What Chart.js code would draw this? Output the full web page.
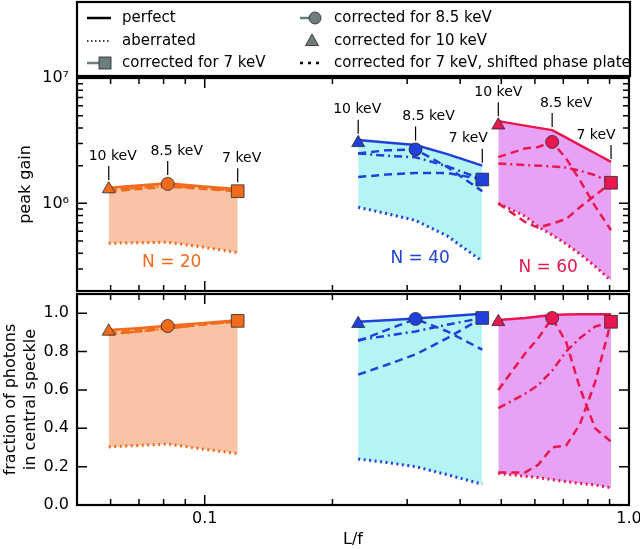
<!DOCTYPE html>
<html>
<head>
<meta charset="utf-8">
<script src="https://cdn.jsdelivr.net/npm/chart.js@4.4.1/dist/chart.umd.min.js"></script>
<style>
html, body { margin: 0; padding: 0; background: #fff; overflow: hidden; }
#wrap { position: relative; width: 640px; height: 549px; }
canvas { position: absolute; left: 0; top: 0; }
</style>
</head>
<body>
<div id="wrap">
  <canvas id="topChart" width="640" height="549"></canvas>
  <canvas id="botChart" width="640" height="549"></canvas>
</div>
<script>
// L/f for each lens stack, going from 10 keV to 7 keV
var lf20 = [0.0594, 0.0696, 0.0818, 0.0979, 0.1196];
var lf40 = [0.230, 0.268, 0.314, 0.373, 0.451];
var lf60 = [0.492, 0.569, 0.611, 0.659, 0.711, 0.766, 0.832, 0.907];

var energyLabels = ['10 keV', '8.5 keV', '7 keV'];
var groupLabels = ['N = 20', 'N = 40', 'N = 60'];

// peak gain (top panel)
var gainPerfect20 = [1.33e6, 1.39e6, 1.45e6, 1.37e6, 1.30e6];
var gainAberr20 = [4.8e5, 4.85e5, 4.9e5, 4.5e5, 4.05e5];
var gainCorr7_20 = [1.24e6, 1.30e6, 1.36e6, 1.31e6, 1.25e6];
var gainCorr85_20 = [1.27e6, 1.36e6, 1.43e6, 1.34e6, 1.26e6];
var gainShift20 = [1.27e6, 1.33e6, 1.38e6, 1.32e6, 1.27e6];
var gainMark20 = [1.30e6, 1.43e6, 1.25e6];

var gainPerfect40 = [3.2e6, 3.06e6, 2.92e6, 2.47e6, 2.0e6];
var gainAberr40 = [9.3e5, 8.3e5, 7.3e5, 5.5e5, 3.45e5];
var gainCorr7_40 = [1.62e6, 1.70e6, 1.75e6, 1.75e6, 1.55e6];
var gainCorr85_40 = [2.5e6, 2.65e6, 2.69e6, 1.95e6, 1.25e6];
var gainShift40 = [2.5e6, 2.4e6, 2.33e6, 1.98e6, 1.55e6];
var gainMark40 = [3.04e6, 2.69e6, 1.55e6];

var gainPerfect60 = [4.53e6, 4.17e6, 4.0e6, 3.84e6, 3.34e6, 2.91e6, 2.51e6, 2.14e6];
var gainAberr60 = [1.0e6, 7.9e5, 6.5e5, 5.6e5, 4.75e5, 3.95e5, 3.15e5, 2.42e5];
var gainCorr7_60 = [1.0e6, 7.1e5, 6.4e5, 6.9e5, 7.5e5, 9.3e5, 1.16e6, 1.46e6];
var gainCorr85_60 = [2.34e6, 2.74e6, 2.82e6, 3.09e6, 2.28e6, 1.53e6, 9.5e5, 6.1e5];
var gainShift60 = [2.08e6, 2.02e6, 2.0e6, 1.97e6, 1.93e6, 1.82e6, 1.68e6, 1.46e6];
var gainMark60 = [4.2e6, 3.09e6, 1.46e6];

// fraction of photons in central speckle (bottom panel)
var fracPerfect20 = [0.912, 0.922, 0.935, 0.948, 0.963];
var fracAberr20 = [0.303, 0.31, 0.318, 0.293, 0.268];
var fracCorr7_20 = [0.89, 0.905, 0.92, 0.94, 0.96];
var fracCorr85_20 = [0.895, 0.915, 0.933, 0.945, 0.955];
var fracShift20 = [0.89, 0.905, 0.92, 0.94, 0.958];
var fracMark20 = [0.905, 0.933, 0.96];

var fracPerfect40 = [0.955, 0.963, 0.972, 0.984, 0.997];
var fracAberr40 = [0.24, 0.222, 0.2, 0.158, 0.108];
var fracCorr7_40 = [0.68, 0.73, 0.785, 0.87, 0.975];
var fracCorr85_40 = [0.855, 0.912, 0.97, 0.905, 0.81];
var fracShift40 = [0.86, 0.882, 0.905, 0.94, 0.975];
var fracMark40 = [0.945, 0.970, 0.975];

var fracPerfect60 = [0.965, 0.975, 0.983, 0.99, 0.993, 0.995, 0.995, 0.995];
var fracAberr60 = [0.165, 0.15, 0.143, 0.132, 0.122, 0.113, 0.104, 0.09];
var fracCorr7_60 = [0.17, 0.17, 0.21, 0.30, 0.31, 0.42, 0.64, 0.955];
var fracCorr85_60 = [0.60, 0.79, 0.87, 0.975, 0.85, 0.61, 0.40, 0.33];
var fracShift60 = [0.505, 0.58, 0.625, 0.70, 0.80, 0.87, 0.93, 0.955];
var fracMark60 = [0.955, 0.975, 0.955];

// where the "N = .." labels sit, in data units of the top panel
var nLabelX = [0.0836, 0.322, 0.645];
var nLabelY = [3.37e5, 3.63e5, 3.08e5];

var xTickVals = [0.1, 1];
var xTickText = ['0.1', '1.0'];

var lineCols = ['#f26b1d', '#2040dc', '#e8174f'];
var fillCols = ['#f9c3a6', '#b4f4f4', '#e8a2f5'];
var labelDx = [[4, 9, 4], [-1, 13, -14], [0, 14, -15]];
var FONT = 'DejaVu Sans';

function pts(xs, ys) {
  return xs.map(function (x, i) { return {x: x, y: ys[i]}; });
}

function buildSets(groups) {
  var sets = [];
  groups.forEach(function (g, k) {
    var lc = lineCols[k];
    var base = sets.length;
    sets.push({data: pts(g.xs, g.perfect), borderColor: lc, borderWidth: 2.5,
      fill: {target: base + 1}, backgroundColor: fillCols[k], order: 2});
    sets.push({data: pts(g.xs, g.aberr), borderColor: lc, borderWidth: 3,
      borderDash: [2, 3.5], fill: false, order: 2});
    sets.push({data: pts(g.xs, g.c85), borderColor: lc, borderWidth: 2.5,
      borderDash: [8, 5], fill: false, order: 2});
    sets.push({data: pts(g.xs, g.c7), borderColor: lc, borderWidth: 2.5,
      borderDash: [8, 5], fill: false, order: 2});
    sets.push({data: pts(g.xs, g.shift), borderColor: lc, borderWidth: 2.5,
      borderDash: [8, 4, 2, 4], fill: false, order: 2});
    var xsM = [g.xs[0], g.xs[g.mid], g.xs[g.xs.length - 1]];
    sets.push({data: pts(xsM, g.mark), showLine: false, fill: false, order: 0,
      pointStyle: ['triangle', 'circle', 'rect'], pointRadius: [7.5, 6.5, 9],
      pointBackgroundColor: lc, pointBorderColor: '#2a2a2a', pointBorderWidth: 0.8,
      markerGroup: k});
  });
  return sets;
}

var topSets = buildSets([
  {xs: lf20, mid: 2, perfect: gainPerfect20, aberr: gainAberr20, c7: gainCorr7_20, c85: gainCorr85_20, shift: gainShift20, mark: gainMark20},
  {xs: lf40, mid: 2, perfect: gainPerfect40, aberr: gainAberr40, c7: gainCorr7_40, c85: gainCorr85_40, shift: gainShift40, mark: gainMark40},
  {xs: lf60, mid: 3, perfect: gainPerfect60, aberr: gainAberr60, c7: gainCorr7_60, c85: gainCorr85_60, shift: gainShift60, mark: gainMark60}
]);
var botSets = buildSets([
  {xs: lf20, mid: 2, perfect: fracPerfect20, aberr: fracAberr20, c7: fracCorr7_20, c85: fracCorr85_20, shift: fracShift20, mark: fracMark20},
  {xs: lf40, mid: 2, perfect: fracPerfect40, aberr: fracAberr40, c7: fracCorr7_40, c85: fracCorr85_40, shift: fracShift40, mark: fracMark40},
  {xs: lf60, mid: 3, perfect: fracPerfect60, aberr: fracAberr60, c7: fracCorr7_60, c85: fracCorr85_60, shift: fracShift60, mark: fracMark60}
]);

// inward ticks on all four sides + frame, matplotlib style
var xMinor = [];
for (var i = 5; i <= 9; i++) xMinor.push(i / 100);
for (i = 2; i <= 9; i++) xMinor.push(i / 10);
var gainMinor = [];
for (i = 2; i <= 9; i++) { gainMinor.push(i * 1e5); gainMinor.push(i * 1e6); }

var framePlugin = {
  id: 'frame',
  afterDatasetsDraw: function (chart, args, opts) {
    var ctx = chart.ctx, a = chart.chartArea;
    var sx = chart.scales.x, sy = chart.scales.y;
    ctx.save();
    ctx.strokeStyle = '#000';
    ctx.lineWidth = 1.5;
    function tickX(v, len) {
      var p = sx.getPixelForValue(v);
      if (p < a.left - 0.5 || p > a.right + 0.5) return;
      ctx.beginPath();
      ctx.moveTo(p, a.top); ctx.lineTo(p, a.top + len);
      ctx.moveTo(p, a.bottom); ctx.lineTo(p, a.bottom - len);
      ctx.stroke();
    }
    function tickY(v, len) {
      var p = sy.getPixelForValue(v);
      if (p < a.top - 0.5 || p > a.bottom + 0.5) return;
      ctx.beginPath();
      ctx.moveTo(a.left, p); ctx.lineTo(a.left + len, p);
      ctx.moveTo(a.right, p); ctx.lineTo(a.right - len, p);
      ctx.stroke();
    }
    xMinor.forEach(function (v) { tickX(v, 6); });
    xTickVals.forEach(function (v) { tickX(v, 10); });
    (opts.yMinor || []).forEach(function (v) { tickY(v, 6); });
    (opts.yMajor || []).forEach(function (v) { tickY(v, 10); });
    ctx.lineWidth = 2.2;
    ctx.strokeRect(a.left, a.top, a.right - a.left, a.bottom - a.top);
    if (opts.xLabels) {
      ctx.fillStyle = '#000';
      ctx.font = '16px "' + FONT + '"';
      ctx.textAlign = 'center';
      ctx.textBaseline = 'top';
      xTickVals.forEach(function (v, j) {
        ctx.fillText(xTickText[j], sx.getPixelForValue(v), a.bottom + 6);
      });
    }
    ctx.restore();
  }
};

// energy annotations, N labels and the legend box (top panel only)
var notesPlugin = {
  id: 'notes',
  afterDraw: function (chart) {
    var ctx = chart.ctx;
    var sx = chart.scales.x, sy = chart.scales.y;
    ctx.save();
    chart.data.datasets.forEach(function (ds, di) {
      if (ds.markerGroup === undefined) return;
      var k = ds.markerGroup;
      var perf = chart.data.datasets[di - 5].data;
      ds.data.forEach(function (p, j) {
        var mx = sx.getPixelForValue(p.x), my = sy.getPixelForValue(p.y);
        var pp = perf.filter(function (q) { return q.x === p.x; })[0];
        var py = sy.getPixelForValue(pp.y);
        var tip = Math.min(py, my - 6) - 3;
        ctx.strokeStyle = '#000';
        ctx.lineWidth = 1.2;
        ctx.beginPath();
        ctx.moveTo(mx, tip); ctx.lineTo(mx, tip - 14);
        ctx.stroke();
        ctx.fillStyle = '#000';
        ctx.font = '14px "' + FONT + '"';
        ctx.textAlign = 'center';
        ctx.textBaseline = 'middle';
        ctx.fillText(energyLabels[j], mx + labelDx[k][j], tip - 24);
      });
    });
    groupLabels.forEach(function (t, k) {
      ctx.fillStyle = lineCols[k];
      ctx.font = '17px "' + FONT + '"';
      ctx.textAlign = 'center';
      ctx.textBaseline = 'middle';
      ctx.fillText(t, sx.getPixelForValue(nLabelX[k]), sy.getPixelForValue(nLabelY[k]));
    });

    // legend
    var gray = '#6d7d7d';
    ctx.fillStyle = '#fff';
    ctx.fillRect(77, 2, 553, 74);
    ctx.strokeStyle = '#000';
    ctx.lineWidth = 2.2;
    ctx.strokeRect(77, 2, 553, 74);
    var rows = [18, 41, 63];
    function seg(x0, x1, y, dash, w, c) {
      ctx.save();
      ctx.strokeStyle = c; ctx.lineWidth = w; ctx.setLineDash(dash);
      ctx.beginPath(); ctx.moveTo(x0, y); ctx.lineTo(x1, y); ctx.stroke();
      ctx.restore();
    }
    seg(87, 111, rows[0], [], 2.5, '#000');
    seg(87, 111, rows[1], [1.5, 2.5], 1.5, '#000');
    seg(87, 99, rows[2], [], 2.5, gray);
    ctx.fillStyle = gray; ctx.strokeStyle = '#222'; ctx.lineWidth = 0.8;
    ctx.fillRect(99, rows[2] - 6, 12, 12); ctx.strokeRect(99, rows[2] - 6, 12, 12);
    seg(300, 310, rows[0], [], 2.5, gray);
    ctx.beginPath(); ctx.arc(315, rows[0], 6, 0, Math.PI * 2); ctx.fill(); ctx.stroke();
    ctx.beginPath();
    ctx.moveTo(312, rows[1] - 7); ctx.lineTo(318.5, rows[1] + 4.5); ctx.lineTo(305.5, rows[1] + 4.5);
    ctx.closePath(); ctx.fill(); ctx.stroke();
    seg(300, 322, rows[2], [3, 5], 2.5, '#000');
    ctx.fillStyle = '#000';
    ctx.font = '15px "' + FONT + '"';
    ctx.textAlign = 'left';
    ctx.textBaseline = 'middle';
    var texts = ['perfect', 'aberrated', 'corrected for 7 keV', 'corrected for 8.5 keV', 'corrected for 10 keV', 'corrected for 7 keV, shifted phase plate'];
    texts.forEach(function (t, i) {
      ctx.fillText(t, i < 3 ? 122 : 334, rows[i % 3]);
    });
    ctx.restore();
  }
};

Chart.defaults.font.family = FONT;
Chart.defaults.color = '#000';

function xScale(bottomPanel) {
  return {
    type: 'logarithmic', min: 0.05, max: 1.0,
    grid: {display: false, drawTicks: false},
    border: {display: false},
    afterFit: function (s) { s.height = bottomPanel ? 44 : 0; },
    ticks: {display: false, padding: 0},
    title: {display: bottomPanel, text: 'L/f', font: {size: 16}, padding: {top: 0, bottom: 0}}
  };
}

var common = {
  responsive: false,
  animation: false,
  elements: {point: {radius: 0, hoverRadius: 0}, line: {tension: 0}},
  plugins: {legend: {display: false}, tooltip: {enabled: false}, filler: {drawTime: 'beforeDatasetsDraw'}}
};

new Chart(document.getElementById('topChart'), {
  type: 'line',
  data: {datasets: topSets},
  options: Object.assign({}, common, {
    layout: {autoPadding: false, padding: {left: 0, right: 11, top: 78, bottom: 258}},
    plugins: Object.assign({}, common.plugins, {frame: {yMajor: [1e6, 1e7], yMinor: gainMinor}}),
    scales: {
      x: xScale(false),
      y: {
        type: 'logarithmic', min: 2e5, max: 1e7,
        grid: {display: false, drawTicks: false},
        border: {display: false},
        afterBuildTicks: function (s) { s.ticks = [{value: 1e6}, {value: 1e7}]; },
        afterFit: function (s) { s.width = 77; },
        ticks: {autoSkip: false, padding: 8, font: {size: 16},
          callback: function (v) { return v === 1e7 ? '10\u2077' : '10\u2076'; }},
        title: {display: true, text: 'peak gain', font: {size: 16}, padding: {top: 16, bottom: 0}}
      }
    }
  }),
  plugins: [framePlugin, notesPlugin]
});

new Chart(document.getElementById('botChart'), {
  type: 'line',
  data: {datasets: botSets},
  options: Object.assign({}, common, {
    layout: {autoPadding: false, padding: {left: 0, right: 11, top: 294, bottom: 0}},
    plugins: Object.assign({}, common.plugins, {frame: {yMajor: [0, 0.2, 0.4, 0.6, 0.8, 1.0], yMinor: [], xLabels: true}}),
    scales: {
      x: xScale(true),
      y: {
        type: 'linear', min: 0, max: 1.1,
        grid: {display: false, drawTicks: false},
        border: {display: false},
        afterBuildTicks: function (s) { s.ticks = [0, 0.2, 0.4, 0.6, 0.8, 1.0].map(function (v) { return {value: v}; }); },
        afterFit: function (s) { s.width = 77; },
        ticks: {autoSkip: false, padding: 8, font: {size: 16},
          callback: function (v) { return v.toFixed(1); }},
        title: {display: true, text: ['fraction of photons', 'in central speckle'], font: {size: 16, lineHeight: 1.3}, padding: {top: 0, bottom: 0}}
      }
    }
  }),
  plugins: [framePlugin]
});
</script>
</body>
</html>
